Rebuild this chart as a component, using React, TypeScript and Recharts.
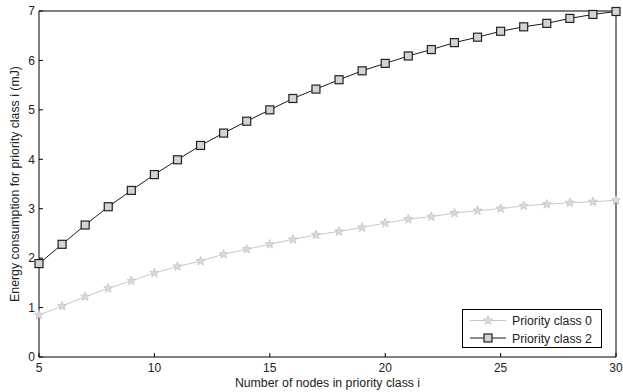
import React from "react";
import { LineChart, Line, XAxis, YAxis, Legend, Label } from "recharts";

const nodes = [5, 6, 7, 8, 9, 10, 11, 12, 13, 14, 15, 16, 17, 18, 19, 20, 21, 22, 23, 24, 25, 26, 27, 28, 29, 30];
const class0 = [0.85, 1.03, 1.22, 1.39, 1.54, 1.7, 1.83, 1.94, 2.08, 2.18, 2.28, 2.38, 2.47, 2.54, 2.62, 2.71, 2.79, 2.84, 2.91, 2.96, 3.0, 3.06, 3.09, 3.12, 3.14, 3.17];
const class2 = [1.89, 2.28, 2.67, 3.04, 3.37, 3.69, 3.99, 4.28, 4.53, 4.77, 5.0, 5.23, 5.42, 5.61, 5.79, 5.94, 6.09, 6.22, 6.36, 6.47, 6.59, 6.68, 6.75, 6.85, 6.93, 6.99];
const xTicks = [5, 10, 15, 20, 25, 30];
const yTicks = [0, 1, 2, 3, 4, 5, 6, 7];

const data = nodes.map((n, i) => ({ n, c0: class0[i], c2: class2[i] }));

const FONT = "'Liberation Sans', Arial, sans-serif";
const tickStyle = { fontSize: 12, fill: "#222", fontFamily: FONT };
const labelStyle = { fontSize: 12.3, fill: "#222", fontFamily: FONT };

function starPoints(cx: number, cy: number) {
  const pts: string[] = [];
  for (let i = 0; i < 10; i++) {
    const r = i % 2 === 0 ? 4.8 : 2;
    const a = -Math.PI / 2 + (i * Math.PI) / 5;
    pts.push(`${cx + r * Math.cos(a)},${cy + r * Math.sin(a)}`);
  }
  return pts.join(" ");
}

const Star = (props: any) => {
  const { cx, cy } = props;
  if (cx == null || cy == null) return null;
  return <polygon points={starPoints(cx, cy)} fill="#dadada" stroke="#c4c4c4" strokeWidth={0.8} />;
};

const Square = (props: any) => {
  const { cx, cy } = props;
  if (cx == null || cy == null) return null;
  return <rect x={cx - 4} y={cy - 4} width={8} height={8} fill="#d6d3cc" stroke="#222" strokeWidth={1.2} />;
};

const LegendBox = () => (
  <svg width={140} height={39} style={{ display: "block" }}>
    <rect x={0.5} y={0.5} width={139} height={38} fill="#fff" stroke="#000" />
    <line x1={8} x2={44} y1={11.5} y2={11.5} stroke="#c8c8c8" />
    <Star cx={26} cy={11.5} />
    <text x={50} y={16} style={labelStyle}>Priority class 0</text>
    <line x1={8} x2={44} y1={29} y2={29} stroke="#1a1a1a" />
    <Square cx={26} cy={29} />
    <text x={50} y={33.5} style={labelStyle}>Priority class 2</text>
  </svg>
);

export default function App() {
  return (
    <div>
      <style>{`body{margin:0}`}</style>
      <LineChart width={623} height={392} data={data} margin={{ top: 0, right: 0, bottom: 0, left: 0 }}>
        <XAxis
          dataKey="n"
          type="number"
          domain={[5, 30]}
          ticks={xTicks}
          height={35}
          tickSize={-4}
          tickMargin={10}
          stroke="#000"
          tick={tickStyle}
        >
          <Label value="Number of nodes in priority class i" position="insideBottom" offset={5.5} style={labelStyle} />
        </XAxis>
        <XAxis
          xAxisId="top"
          orientation="top"
          dataKey="n"
          type="number"
          domain={[5, 30]}
          ticks={xTicks}
          height={11}
          tickSize={-4}
          tick={false}
          stroke="#000"
        />
        <YAxis
          type="number"
          domain={[0, 7]}
          ticks={yTicks}
          width={39}
          tickSize={-4}
          tickMargin={8}
          stroke="#000"
          tick={tickStyle}
        >
          <Label
            value="Energy consumption for priority class i (mJ)"
            angle={-90}
            position="insideLeft"
            offset={15}
            style={{ ...labelStyle, textAnchor: "middle" }}
          />
        </YAxis>
        <YAxis
          yAxisId="right"
          orientation="right"
          type="number"
          domain={[0, 7]}
          ticks={yTicks}
          width={7}
          tickSize={-4}
          tick={false}
          stroke="#000"
        />
        <Line
          dataKey="c0"
          stroke="#c8c8c8"
          strokeWidth={1}
          dot={<Star />}
          isAnimationActive={false}
          name="Priority class 0"
        />
        <Line
          dataKey="c2"
          stroke="#1a1a1a"
          strokeWidth={1}
          dot={<Square />}
          isAnimationActive={false}
          name="Priority class 2"
        />
        <Legend
          layout="vertical"
          align="center"
          verticalAlign="middle"
          content={() => <LegendBox />}
          wrapperStyle={{ left: 462, top: 309, width: 140, height: 39 }}
        />
      </LineChart>
    </div>
  );
}
